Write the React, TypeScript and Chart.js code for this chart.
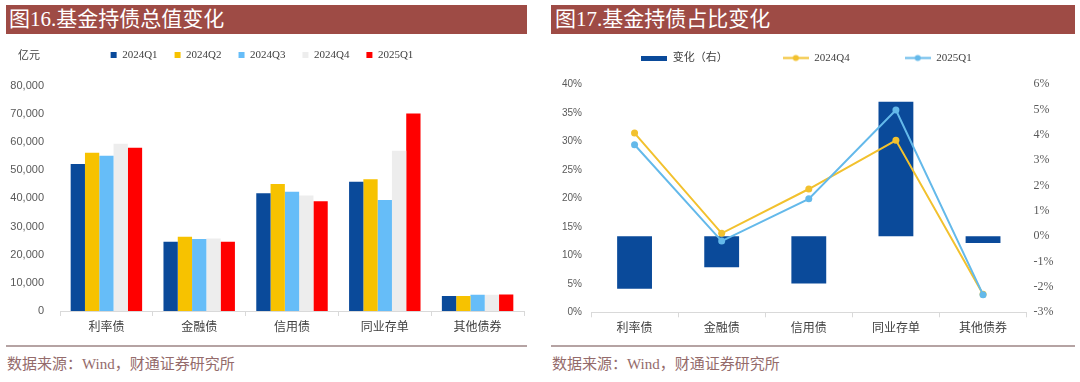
import React, { useEffect, useRef } from 'react';
import { Chart, registerables } from 'chart.js';

Chart.register(...registerables);

// ---------- data ----------
const categories = ['利率债', '金融债', '信用债', '同业存单', '其他债券'];

// Fig.16 fund bond holdings (亿元)
const quarterLabels = ['2024Q1', '2024Q2', '2024Q3', '2024Q4', '2025Q1'];
const hold2024Q1 = [52200, 24600, 41800, 45900, 5300];
const hold2024Q2 = [56200, 26400, 45100, 46800, 5300];
const hold2024Q3 = [55100, 25600, 42300, 39400, 5800];
const hold2024Q4 = [59400, 25700, 41000, 56900, 5800];
const hold2025Q1 = [58000, 24600, 39000, 70100, 5900];
const holdTickMin = 0;
const holdTickMax = 80000;
const holdTickStep = 10000;

// Fig.17 share of holdings (%)
const shareLegend = ['变化（右）', '2024Q4', '2025Q1'];
const shareChange = [-2.07, -1.22, -1.86, 5.31, -0.26];
const share2024Q4 = [31.45, 13.86, 21.63, 30.17, 3.16];
const share2025Q1 = [29.4, 12.5, 19.9, 35.5, 3.09];
const shareLeftMin = 0;
const shareLeftMax = 40;
const shareLeftStep = 5;
const shareRightMin = -3;
const shareRightMax = 6;
const shareRightStep = 1;

// ---------- styles ----------
const holdColors = ['#0A4A9A', '#F7C200', '#66BDF8', '#EDEDED', '#FF0000'];
const barBlue = '#0A4A9A';
const lineYellow = '#F2C12E';
const lineBlue = '#64B9EA';
const axisGrey = '#D9D9D9';
const titleRed = '#9E4B45';
const serifFont = "'Liberation Serif', 'Noto Sans CJK SC', serif";
const sansFont = "'Liberation Sans', 'Noto Sans CJK SC', sans-serif";
const cjkFont = "'Noto Sans CJK SC', sans-serif";

function spacer(h: number) {
  return { display: true, text: '', weight: 500, font: { size: 1 }, padding: { top: 0, bottom: h - 1.2 } };
}

function lineIcon(color: string) {
  const c = document.createElement('canvas');
  c.width = 26;
  c.height = 9;
  const ctx = c.getContext('2d')!;
  ctx.strokeStyle = color;
  ctx.lineWidth = 2;
  ctx.beginPath();
  ctx.moveTo(0, 4.5);
  ctx.lineTo(26, 4.5);
  ctx.stroke();
  ctx.fillStyle = color;
  ctx.beginPath();
  ctx.arc(13, 4.5, 3, 0, Math.PI * 2);
  ctx.fill();
  return c;
}

function barIcon(color: string) {
  const c = document.createElement('canvas');
  c.width = 26;
  c.height = 5;
  const ctx = c.getContext('2d')!;
  ctx.fillStyle = color;
  ctx.fillRect(0, 0, 26, 5);
  return c;
}

function HoldChart() {
  const ref = useRef<HTMLCanvasElement>(null);
  useEffect(() => {
    const series = [hold2024Q1, hold2024Q2, hold2024Q3, hold2024Q4, hold2025Q1];
    const chart = new Chart(ref.current!, {
      type: 'bar',
      data: {
        labels: categories,
        datasets: quarterLabels.map((q, i) => ({
          label: q,
          data: series[i],
          backgroundColor: holdColors[i],
          borderWidth: 0,
          barPercentage: 1,
          categoryPercentage: 0.77,
        })),
      },
      options: {
        responsive: false,
        animation: false,
        layout: { padding: { top: 32.5, right: 1, left: 0, bottom: 0 } },
        plugins: {
          legend: {
            position: 'top',
            labels: {
              boxWidth: 6,
              boxHeight: 6,
              padding: 17,
              color: '#404040',
              font: { family: serifFont, size: 11 },
            },
          },
          subtitle: spacer(15.2) as any,
          tooltip: { enabled: false },
        },
        scales: {
          x: {
            grid: { display: true, drawOnChartArea: false, tickLength: 5, color: axisGrey, offset: true },
            border: { color: axisGrey },
            ticks: { font: { family: cjkFont, size: 12 }, color: '#404040', padding: 3 },
            afterFit: (s: any) => { s.height = 29; },
          },
          y: {
            min: holdTickMin,
            max: holdTickMax,
            ticks: {
              stepSize: holdTickStep,
              padding: 16,
              color: '#595959',
              font: { family: sansFont, size: 11 },
              callback: (v: any) => Number(v).toLocaleString('en-US'),
            },
            grid: { display: false, drawTicks: false },
            border: { display: false },
            afterFit: (s: any) => { s.width = 60; },
          },
        },
      },
    } as any);
    return () => chart.destroy();
  }, []);
  return <canvas ref={ref} width={525} height={340} style={{ position: 'absolute', left: 0, top: 0 }} />;
}

function ShareChart() {
  const ref = useRef<HTMLCanvasElement>(null);
  useEffect(() => {
    const icons = [barIcon(barBlue), lineIcon(lineYellow), lineIcon(lineBlue)];
    const chart = new Chart(ref.current!, {
      type: 'bar',
      data: {
        labels: categories,
        datasets: [
          {
            type: 'bar',
            label: shareLegend[0],
            data: shareChange,
            yAxisID: 'y1',
            backgroundColor: barBlue,
            borderWidth: 0,
            barPercentage: 1,
            categoryPercentage: 0.4,
            order: 2,
          },
          {
            type: 'line',
            label: shareLegend[1],
            data: share2024Q4,
            yAxisID: 'y',
            borderColor: lineYellow,
            backgroundColor: lineYellow,
            borderWidth: 2,
            pointRadius: 3.5,
            pointBorderWidth: 0,
            pointBackgroundColor: lineYellow,
            order: 1,
          },
          {
            type: 'line',
            label: shareLegend[2],
            data: share2025Q1,
            yAxisID: 'y',
            borderColor: lineBlue,
            backgroundColor: lineBlue,
            borderWidth: 2,
            pointRadius: 3.5,
            pointBorderWidth: 0,
            pointBackgroundColor: lineBlue,
            order: 0,
          },
        ],
      },
      options: {
        responsive: false,
        animation: false,
        layout: { padding: { top: 7.5, right: 0, left: 0, bottom: 0 } },
        plugins: {
          legend: {
            position: 'top',
            labels: {
              usePointStyle: true,
              pointStyleWidth: 26,
              padding: 55,
              color: '#404040',
              font: { family: serifFont, size: 11 },
              generateLabels: (c: any) =>
                (Chart.defaults.plugins.legend.labels as any)
                  .generateLabels(c)
                  .map((l: any) => ({ ...l, pointStyle: icons[l.datasetIndex] })),
              sort: (a: any, b: any) => a.datasetIndex - b.datasetIndex,
            },
          },
          subtitle: spacer(10.8) as any,
          tooltip: { enabled: false },
        },
        scales: {
          x: {
            grid: { display: true, drawOnChartArea: false, tickLength: 5, color: axisGrey, offset: true },
            border: { color: axisGrey },
            ticks: { font: { family: cjkFont, size: 12 }, color: '#404040', padding: 3 },
            afterFit: (s: any) => { s.height = 27.7; },
          },
          y: {
            position: 'left',
            min: shareLeftMin,
            max: shareLeftMax,
            ticks: {
              stepSize: shareLeftStep,
              padding: 9,
              color: '#595959',
              font: { family: sansFont, size: 10 },
              callback: (v: any) => `${v}%`,
            },
            grid: { display: false, drawTicks: false },
            border: { display: false },
            afterFit: (s: any) => { s.width = 40; },
          },
          y1: {
            position: 'right',
            min: shareRightMin,
            max: shareRightMax,
            ticks: {
              stepSize: shareRightStep,
              padding: 7,
              color: '#595959',
              font: { family: serifFont, size: 12 },
              callback: (v: any) => `${Math.round(Number(v))}%`,
            },
            grid: { display: false, drawTicks: false },
            border: { display: false },
            afterFit: (s: any) => { s.width = 35.4; },
          },
        },
      },
    } as any);
    return () => chart.destroy();
  }, []);
  return <canvas ref={ref} width={511} height={350} style={{ position: 'absolute', left: 551, top: -10 }} />;
}

const titleStyle: React.CSSProperties = {
  position: 'absolute',
  top: 5,
  height: 29,
  lineHeight: '29px',
  background: titleRed,
  color: '#FFFFFF',
  fontFamily: serifFont,
  fontSize: 21,
  boxSizing: 'border-box',
  whiteSpace: 'nowrap',
};

const footLine: React.CSSProperties = {
  position: 'absolute',
  top: 345,
  height: 2,
  background: '#B5A3A3',
};

const footText: React.CSSProperties = {
  position: 'absolute',
  top: 354,
  lineHeight: '20px',
  fontFamily: serifFont,
  fontSize: 15,
  color: '#946B6B',
  whiteSpace: 'nowrap',
};

export default function App() {
  return (
    <div style={{ position: 'absolute', left: 0, top: 0, width: 1080, height: 382, background: '#fff', overflow: 'hidden' }}>
      <HoldChart />
      <ShareChart />
      <div style={{ ...titleStyle, left: 6, width: 521, paddingLeft: 3 }}>图16.基金持债总值变化</div>
      <div style={{ ...titleStyle, left: 551, width: 524, paddingLeft: 4 }}>图17.基金持债占比变化</div>
      <div style={{ position: 'absolute', left: 18, top: 48, fontFamily: serifFont, fontSize: 11, color: '#404040', lineHeight: '14px' }}>亿元</div>
      <div style={{ ...footLine, left: 6, width: 521 }} />
      <div style={{ ...footLine, left: 551, width: 524 }} />
      <div style={{ ...footText, left: 7 }}>数据来源：Wind，财通证券研究所</div>
      <div style={{ ...footText, left: 552 }}>数据来源：Wind，财通证券研究所</div>
    </div>
  );
}
